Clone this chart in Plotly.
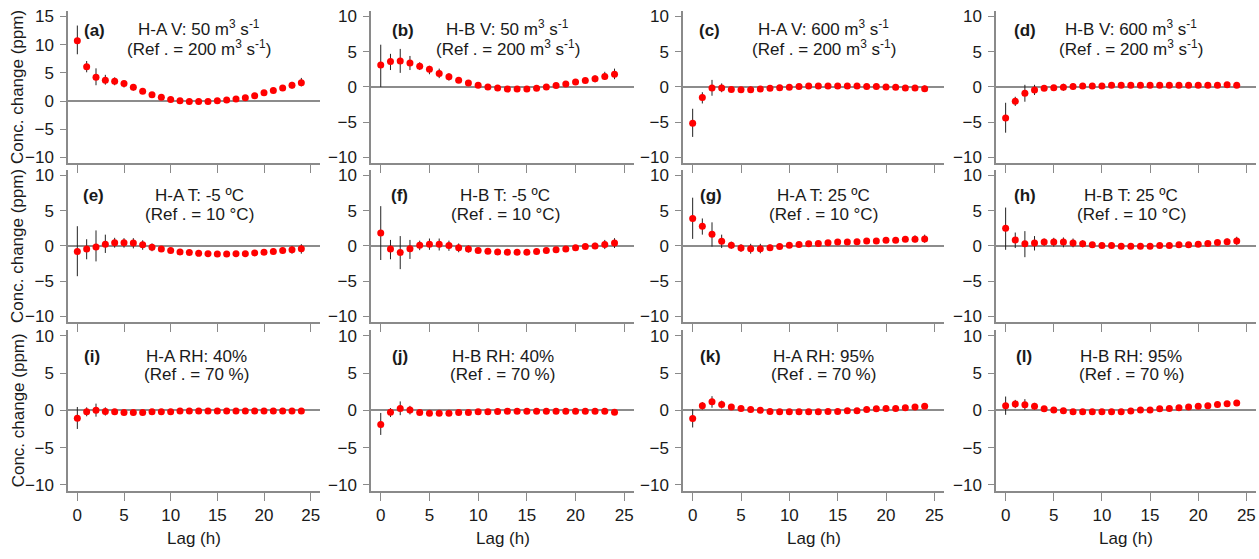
import plotly.graph_objects as go

lags = list(range(25))

panel_ids = ["a", "b", "c", "d", "e", "f", "g", "h", "i", "j", "k", "l"]
line1 = [
    "H-A V: 50 m<sup>3</sup> s<sup>-1</sup>", "H-B V: 50 m<sup>3</sup> s<sup>-1</sup>",
    "H-A V: 600 m<sup>3</sup> s<sup>-1</sup>", "H-B V: 600 m<sup>3</sup> s<sup>-1</sup>",
    "H-A T: -5 ºC", "H-B T: -5 ºC", "H-A T: 25 ºC", "H-B T: 25 ºC",
    "H-A RH: 40%", "H-B RH: 40%", "H-A RH: 95%", "H-B RH: 95%",
]
line2 = (["(Ref . = 200 m<sup>3</sup> s<sup>-1</sup>)"] * 4
         + ["(Ref . = 10 °C)"] * 4
         + ["(Ref . = 70 %)"] * 4)

S = 0.3  # CI half-width where bar hidden by marker

mean_a = [10.7, 6.1, 4.2, 3.7, 3.5, 3.1, 2.45, 1.75, 1.1, 0.65, 0.25, 0.05, -0.1, -0.1, -0.1, 0.05, 0.2, 0.35, 0.6, 0.95, 1.45, 1.85, 2.3, 2.8, 3.25]
up_a = [2.7, 1.0, 1.6, 0.95, 0.7, 0.5, 0.45, 0.4] + [S] * 12 + [0.35, 0.4, 0.5, 0.6, 0.85]
lo_a = [2.4, 1.0, 1.4, 0.8, 0.7, 0.7, 0.6, 0.4] + [S] * 12 + [0.35, 0.4, 0.5, 0.6, 0.65]

mean_b = [3.1, 3.6, 3.7, 3.4, 2.95, 2.5, 1.9, 1.45, 0.95, 0.55, 0.25, 0.0, -0.15, -0.3, -0.3, -0.3, -0.2, 0.0, 0.2, 0.4, 0.7, 0.9, 1.15, 1.5, 1.8]
up_b = [2.9, 1.1, 1.7, 1.0, 0.55, 0.5, 0.7, 0.5, 0.35] + [S] * 12 + [0.35, 0.5, 0.65, 0.8]
lo_b = [3.1, 1.2, 1.7, 1.0, 0.55, 0.7, 0.65, 0.55, 0.35] + [S] * 12 + [0.35, 0.5, 0.5, 0.7]

mean_c = [-5.15, -1.5, -0.15, -0.15, -0.35, -0.4, -0.4, -0.3, -0.2, -0.1, -0.05, 0.05, 0.15, 0.15, 0.15, 0.15, 0.15, 0.15, 0.05, 0.05, 0.0, -0.05, -0.15, -0.15, -0.25]
up_c = [2.05, 0.75, 1.15, 0.65, S, S, 0.45] + [S] * 17 + [0.45]
lo_c = [1.95, 0.85, 1.1, 0.6, S, S, 0.4] + [S] * 17 + [0.4]

mean_d = [-4.4, -2.05, -0.9, -0.45, -0.2, -0.1, -0.05, 0.05, 0.15, 0.15, 0.15, 0.25, 0.25, 0.25, 0.25, 0.25, 0.25, 0.25, 0.25, 0.25, 0.25, 0.25, 0.25, 0.3, 0.25]
up_d = [2.15, 0.65, 1.2, 0.75, 0.4, 0.35, 0.5, 0.45] + [S] * 15 + [0.4, 0.35]
lo_d = [2.1, 0.65, 1.2, 0.7, 0.35, 0.35, 0.5, 0.45] + [S] * 15 + [0.35, 0.35]

mean_e = [-0.8, -0.45, -0.15, 0.25, 0.45, 0.45, 0.4, 0.15, -0.2, -0.45, -0.65, -0.85, -0.95, -1.05, -1.1, -1.15, -1.15, -1.1, -1.1, -1.0, -0.9, -0.8, -0.65, -0.55, -0.4]
up_e = [3.6, 1.4, 2.35, 1.35, 0.7, 0.65, 0.7, 0.65, 0.55, 0.35] + [S] * 12 + [0.4, 0.55, 0.65]
lo_e = [3.5, 1.45, 2.05, 1.25, 0.7, 0.7, 0.75, 0.7, 0.55, 0.35] + [S] * 12 + [0.45, 0.55, 0.7]

mean_f = [1.85, -0.45, -0.95, -0.4, 0.1, 0.25, 0.25, 0.05, -0.25, -0.45, -0.65, -0.75, -0.85, -0.9, -0.9, -0.9, -0.8, -0.65, -0.55, -0.45, -0.25, -0.1, 0.0, 0.2, 0.4]
up_f = [3.8, 1.3, 2.35, 1.25, 0.65, 0.8, 0.8, 0.7, 0.6, 0.5] + [S] * 12 + [0.45, 0.65, 0.7]
lo_f = [3.85, 1.45, 2.35, 1.45, 0.7, 0.8, 0.9, 0.75, 0.65, 0.5] + [S] * 12 + [0.45, 0.65, 0.7]

mean_g = [3.9, 2.8, 1.65, 0.65, 0.1, -0.3, -0.4, -0.4, -0.25, -0.1, 0.1, 0.2, 0.3, 0.35, 0.45, 0.55, 0.55, 0.6, 0.7, 0.7, 0.8, 0.8, 0.95, 0.95, 1.0]
up_g = [2.95, 1.1, 1.7, 0.95, 0.5, 0.55, 0.7, 0.7, 0.45] + [S] * 14 + [0.55, 0.6]
lo_g = [2.9, 1.2, 1.75, 0.95, 0.5, 0.55, 0.7, 0.65, 0.45] + [S] * 14 + [0.45, 0.55]

mean_h = [2.5, 0.85, 0.3, 0.4, 0.55, 0.55, 0.55, 0.4, 0.3, 0.15, 0.05, 0.05, -0.05, -0.05, -0.05, -0.05, 0.05, 0.05, 0.15, 0.15, 0.25, 0.35, 0.5, 0.6, 0.7]
up_h = [2.95, 1.05, 1.8, 1.0, 0.5, 0.6, 0.65, 0.65, 0.5] + [S] * 14 + [0.45, 0.6]
lo_h = [3.05, 1.15, 1.9, 1.05, 0.55, 0.65, 0.75, 0.6, 0.5] + [S] * 14 + [0.45, 0.6]

mean_i = [-1.05, -0.2, 0.0, -0.15, -0.2, -0.3, -0.3, -0.3, -0.2, -0.2, -0.2, -0.1, -0.1, -0.1, -0.1, -0.1, -0.1, -0.1, -0.1, -0.1, -0.1, -0.1, -0.1, -0.1, -0.1]
up_i = [1.5, 0.6, 0.9, 0.55] + [S] * 21
lo_i = [1.45, 0.6, 0.85, 0.55] + [S] * 21

mean_j = [-1.9, -0.25, 0.25, 0.05, -0.3, -0.4, -0.4, -0.4, -0.3, -0.3, -0.2, -0.2, -0.15, -0.12, -0.12, -0.12, -0.12, -0.12, -0.12, -0.12, -0.12, -0.12, -0.12, -0.12, -0.25]
up_j = [1.55, 0.55, 0.95, 0.55] + [S] * 21
lo_j = [1.4, 0.65, 0.9, 0.6] + [S] * 21

mean_k = [-1.1, 0.6, 1.15, 0.8, 0.45, 0.25, 0.1, 0.0, -0.15, -0.2, -0.2, -0.2, -0.2, -0.2, -0.15, -0.15, -0.05, -0.05, 0.1, 0.2, 0.25, 0.25, 0.35, 0.45, 0.55]
up_k = [1.25, 0.5, 0.75, 0.5] + [S] * 21
lo_k = [1.2, 0.5, 0.8, 0.55] + [S] * 21

mean_l = [0.6, 0.85, 0.75, 0.55, 0.2, 0.05, -0.05, -0.2, -0.2, -0.2, -0.2, -0.2, -0.2, -0.1, 0.05, 0.05, 0.2, 0.25, 0.35, 0.45, 0.55, 0.6, 0.8, 0.9, 1.0]
up_l = [1.25, 0.55, 0.75, 0.45] + [S] * 21
lo_l = [1.2, 0.55, 0.7, 0.45] + [S] * 21

means = [mean_a, mean_b, mean_c, mean_d, mean_e, mean_f, mean_g, mean_h, mean_i, mean_j, mean_k, mean_l]
ups = [up_a, up_b, up_c, up_d, up_e, up_f, up_g, up_h, up_i, up_j, up_k, up_l]
los = [lo_a, lo_b, lo_c, lo_d, lo_e, lo_f, lo_g, lo_h, lo_i, lo_j, lo_k, lo_l]

x_ticks = [0, 5, 10, 15, 20, 25]
y_ticks = [-10, -5, 0, 5, 10]
y_ticks_a = [-10, -5, 0, 5, 10, 15]

# ---- layout geometry (window pixels) ----
W, H = 1259, 559
col_px = [(68, 320), (371, 634), (683, 944), (996, 1256)]
row_px = [(8, 162), (169, 323), (331, 494)]
row_text_px = [(25, 46), (195, 214), (358, 376)]
label_y_px = [28, 195, 358]
label_fx = [0.107, 0.12, 0.10, 0.11, 0.10, 0.11, 0.107, 0.11, 0.095, 0.11, 0.107, 0.107]
title_fx = [0.52, 0.52, 0.54, 0.52, 0.52, 0.51, 0.54, 0.52, 0.51, 0.50, 0.54, 0.52]


def px_x(p):
    return p / W


def px_y(p):
    return 1 - p / H


FONT = "Liberation Sans, Arial, sans-serif"
AXC = "#8a8a8a"
TXT = "#1a1a1a"
FS = 17

fig = go.Figure()
annotations = []
layout = dict(
    width=W, height=H,
    margin=dict(l=0, r=0, t=0, b=0),
    paper_bgcolor="white", plot_bgcolor="white",
    showlegend=False,
    font=dict(family=FONT, size=FS, color=TXT),
)

for k in range(12):
    r, c = divmod(k, 4)
    n = k + 1
    xs = "" if n == 1 else str(n)
    fig.add_trace(go.Scatter(
        x=lags, y=means[k], mode="markers",
        marker=dict(color="#ff0000", size=7, line=dict(width=0)),
        error_y=dict(type="data", symmetric=False, array=ups[k], arrayminus=los[k],
                     color="#222222", thickness=1, width=0),
        xaxis="x" + xs, yaxis="y" + xs,
    ))
    x0, x1 = col_px[c]
    yt, yb = row_px[r]
    layout["xaxis" + xs] = dict(
        domain=[px_x(x0), px_x(x1)], anchor="y" + xs, range=[-1, 26],
        showline=True, linecolor=AXC, linewidth=1.5, showgrid=False, zeroline=False,
        ticks="outside", ticklen=8, tickwidth=1.2, tickcolor=AXC,
        tickvals=x_ticks, showticklabels=(r == 2), ticklabeloverflow="allow",
        tickfont=dict(size=FS, color=TXT),
    )
    yr = [-11, 16] if k == 0 else [-10.8, 10.8]
    layout["yaxis" + xs] = dict(
        domain=[px_y(yb), px_y(yt)], anchor="x" + xs, range=yr,
        showline=True, linecolor=AXC, linewidth=1.5, showgrid=False,
        zeroline=True, zerolinecolor="#8c8c8c", zerolinewidth=1.5,
        ticks="outside", ticklen=6, tickwidth=1.2, tickcolor=AXC,
        tickvals=y_ticks_a if k == 0 else y_ticks, ticklabeloverflow="allow",
        tickfont=dict(size=FS, color=TXT), ticklabelstandoff=3,
    )
    xdom = "x" + xs + " domain"
    l1y, l2y = row_text_px[r]
    annotations.append(dict(
        text="<b>(" + panel_ids[k] + ")</b>", xref=xdom, yref="paper",
        x=label_fx[k], y=px_y(label_y_px[r]), xanchor="center", yanchor="middle",
        showarrow=False, font=dict(size=FS, color=TXT),
    ))
    annotations.append(dict(
        text=line1[k], xref=xdom, yref="paper",
        x=title_fx[k], y=px_y(l1y), xanchor="center", yanchor="middle",
        showarrow=False, font=dict(size=FS, color=TXT),
    ))
    annotations.append(dict(
        text=line2[k], xref=xdom, yref="paper",
        x=title_fx[k], y=px_y(l2y), xanchor="center", yanchor="middle",
        showarrow=False, font=dict(size=FS, color=TXT),
    ))
    if r == 2:
        annotations.append(dict(
            text="Lag (h)", xref="x" + xs, yref="paper",
            x=12.5, y=px_y(542), xanchor="center", yanchor="middle",
            showarrow=False, font=dict(size=FS, color=TXT),
        ))
    if c == 0:
        annotations.append(dict(
            text="Conc. change (ppm)", xref="paper", yref="paper",
            x=px_x(18), y=px_y((yt + yb) / 2), textangle=-90,
            xanchor="center", yanchor="middle",
            showarrow=False, font=dict(size=FS, color=TXT),
        ))

layout["annotations"] = annotations
fig.update_layout(**layout)
fig.write_html(
    "out.html",
    config={"displayModeBar": False},
    post_script="document.body.style.margin='0';document.body.style.overflow='hidden';",
)
